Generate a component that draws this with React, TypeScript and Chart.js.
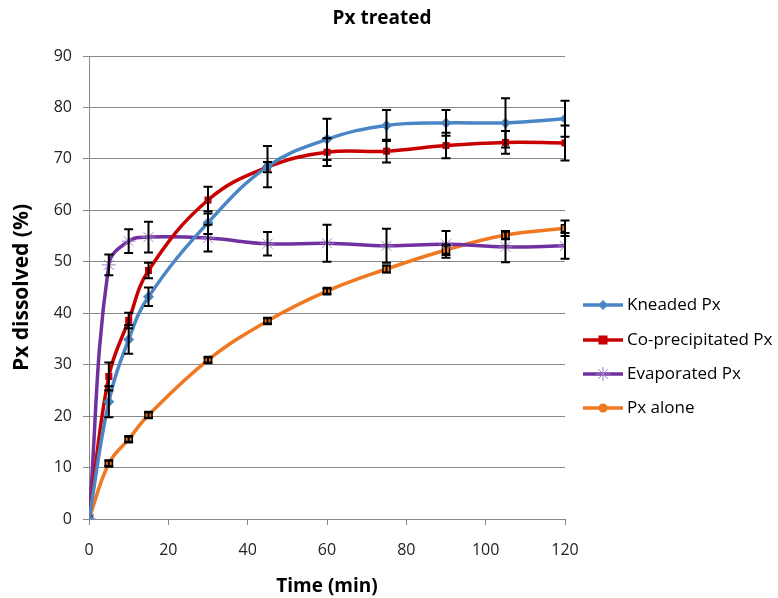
import React, { useEffect, useRef } from "react";
import { Chart, registerables } from "chart.js";

Chart.register(...registerables);

const chartTitle = "Px treated";
const xAxisTitle = "Time (min)";
const yAxisTitle = "Px dissolved (%)";

const times = [0, 5, 10, 15, 30, 45, 60, 75, 90, 105, 120];

const kneaded = [0, 22.8, 34.9, 43.2, 57.6, 68.5, 73.8, 76.5, 77.0, 77.0, 77.8];
const kneadedErr = [0, 3, 2.8, 1.8, 2.2, 4, 4, 3, 2.5, 4.8, 3.5];

const coprecip = [0, 27.7, 38.6, 48.3, 62.0, 68.4, 71.3, 71.5, 72.6, 73.2, 73.1];
const coprecipErr = [0, 2.7, 1.5, 1.5, 2.6, 1, 2.7, 2.2, 2.5, 2.2, 3.4];

const evaporated = [0, 49.4, 54.0, 54.8, 54.6, 53.5, 53.6, 53.1, 53.4, 52.9, 53.1];
const evaporatedErr = [0, 2, 2.3, 3, 2.6, 2.3, 3.6, 3.3, 2.6, 3, 2.5];

const pxAlone = [0, 10.8, 15.5, 20.2, 30.9, 38.5, 44.3, 48.6, 52.3, 55.2, 56.5];
const pxAloneErr = [0, 0.5, 0.5, 0.5, 0.5, 0.5, 0.5, 0.7, 1, 0.8, 1.5];

const seriesNames = ["Kneaded Px", "Co-precipitated Px", "Evaporated Px", "Px alone"];
const seriesColors = ["#4A86C5", "#C80000", "#7030A0", "#F07820"];
const markerColors = ["#4A86C5", "#C80000", "#A080D0", "#F07820"];
const markerStyles = ["rectRot", "rect", "star", "circle"];

const FONT = "'Open Sans', 'Liberation Sans', sans-serif";

function toPoints(ys: number[]) {
  return times.map((t, i) => ({ x: t, y: ys[i] }));
}

const errors = [kneadedErr, coprecipErr, evaporatedErr, pxAloneErr];

const errorBarPlugin = {
  id: "errorBars",
  afterDatasetsDraw(chart: any) {
    const ctx = chart.ctx;
    const yScale = chart.scales.y;
    ctx.save();
    ctx.strokeStyle = "#000";
    ctx.lineWidth = 2;
    chart.data.datasets.forEach((ds: any, di: number) => {
      const meta = chart.getDatasetMeta(di);
      const errs = errors[di];
      meta.data.forEach((pt: any, i: number) => {
        const e = errs[i];
        if (!e) return;
        const v = ds.data[i].y;
        const yt = yScale.getPixelForValue(v + e);
        const yb = yScale.getPixelForValue(v - e);
        const x = pt.x;
        ctx.beginPath();
        ctx.moveTo(x, yt);
        ctx.lineTo(x, yb);
        ctx.moveTo(x - 4.5, yt);
        ctx.lineTo(x + 4.5, yt);
        ctx.moveTo(x - 4.5, yb);
        ctx.lineTo(x + 4.5, yb);
        ctx.stroke();
      });
    });
    ctx.restore();
  },
};

function drawMarker(ctx: CanvasRenderingContext2D, style: string, x: number, y: number, color: string) {
  ctx.save();
  ctx.fillStyle = color;
  ctx.strokeStyle = color;
  if (style === "rectRot") {
    ctx.beginPath();
    ctx.moveTo(x, y - 5);
    ctx.lineTo(x + 5, y);
    ctx.lineTo(x, y + 5);
    ctx.lineTo(x - 5, y);
    ctx.closePath();
    ctx.fill();
  } else if (style === "rect") {
    ctx.fillRect(x - 4.5, y - 4.5, 9, 9);
  } else if (style === "star") {
    ctx.lineWidth = 1;
    const r = 7;
    ctx.beginPath();
    ctx.moveTo(x - r, y);
    ctx.lineTo(x + r, y);
    ctx.moveTo(x, y - r);
    ctx.lineTo(x, y + r);
    const d = r * 0.7;
    ctx.moveTo(x - d, y - d);
    ctx.lineTo(x + d, y + d);
    ctx.moveTo(x - d, y + d);
    ctx.lineTo(x + d, y - d);
    ctx.stroke();
  } else {
    ctx.beginPath();
    ctx.arc(x, y, 4.5, 0, Math.PI * 2);
    ctx.fill();
  }
  ctx.restore();
}

const overlayPlugin = {
  id: "overlay",
  afterDraw(chart: any) {
    const ctx = chart.ctx;
    ctx.save();
    // title
    ctx.fillStyle = "#000";
    ctx.font = `bold 19px ${FONT}`;
    ctx.textAlign = "center";
    ctx.textBaseline = "middle";
    ctx.fillText(chartTitle, 382, 19);
    // legend
    const ys = [305, 340, 374, 408];
    ctx.font = `17px ${FONT}`;
    ctx.textAlign = "left";
    seriesNames.forEach((name, i) => {
      const y = ys[i];
      ctx.strokeStyle = seriesColors[i];
      ctx.lineWidth = 3.5;
      ctx.beginPath();
      ctx.moveTo(583, y);
      ctx.lineTo(623, y);
      ctx.stroke();
      drawMarker(ctx, markerStyles[i], 603, y, markerColors[i]);
      ctx.fillStyle = "#000";
      ctx.fillText(name, 627, y);
    });
    ctx.restore();
  },
};

export default function App() {
  const ref = useRef<HTMLCanvasElement>(null);
  useEffect(() => {
    document.body.style.margin = "0";
    const seriesData = [kneaded, coprecip, evaporated, pxAlone];
    const chart = new Chart(ref.current!, {
      type: "line",
      data: {
        datasets: seriesData.map((ys, i) => ({
          label: seriesNames[i],
          data: toPoints(ys),
          borderColor: seriesColors[i],
          backgroundColor: markerColors[i],
          pointBackgroundColor: i === 3 ? seriesColors[i] : markerColors[i],
          pointBorderColor: i === 3 ? "#000" : markerColors[i],
          pointBorderWidth: i === 3 ? 1.5 : i === 2 ? 1 : 0,
          pointStyle: i === 3 ? "rect" : markerStyles[i],
          pointRadius: i === 2 ? 7 : i === 0 ? 5.5 : 5,
          borderWidth: 3.5,
          tension: 0.4,
          fill: false,
        })),
      },
      options: {
        animation: false,
        responsive: false,
        maintainAspectRatio: false,
        layout: { padding: { left: 0, right: 213, top: 56, bottom: 0 } },
        plugins: {
          legend: { display: false },
          tooltip: { enabled: false },
          title: { display: false },
        },
        scales: {
          x: {
            type: "linear",
            min: 0,
            max: 120,
            afterFit: (s: any) => {
              s.height = 79;
            },
            ticks: {
              stepSize: 20,
              padding: 16,
              color: "#222",
              font: { family: FONT, size: 16 },
            },
            grid: {
              drawOnChartArea: false,
              drawTicks: true,
              tickLength: 6,
              color: "#888",
            },
            border: { color: "#888", width: 1 },
            title: {
              display: true,
              text: xAxisTitle,
              color: "#000",
              font: { family: FONT, size: 19, weight: "bold" },
              padding: { top: 0, bottom: 0 },
            },
          },
          y: {
            min: 0,
            max: 90,
            afterFit: (s: any) => {
              s.width = 89;
            },
            ticks: {
              stepSize: 10,
              padding: 11,
              color: "#222",
              font: { family: FONT, size: 16 },
            },
            grid: {
              color: "#888",
              tickLength: 6,
              lineWidth: 1,
            },
            border: { color: "#888", width: 1 },
            title: {
              display: true,
              text: yAxisTitle,
              color: "#000",
              font: { family: FONT, size: 21, weight: "bold" },
              padding: { top: 9, bottom: 0 },
            },
          },
        },
      },
      plugins: [errorBarPlugin, overlayPlugin],
    } as any);
    return () => chart.destroy();
  }, []);
  return (
    <div style={{ width: 778, height: 598, background: "#fff" }}>
      <canvas ref={ref} width={778} height={598} style={{ width: 778, height: 598 }} />
    </div>
  );
}
